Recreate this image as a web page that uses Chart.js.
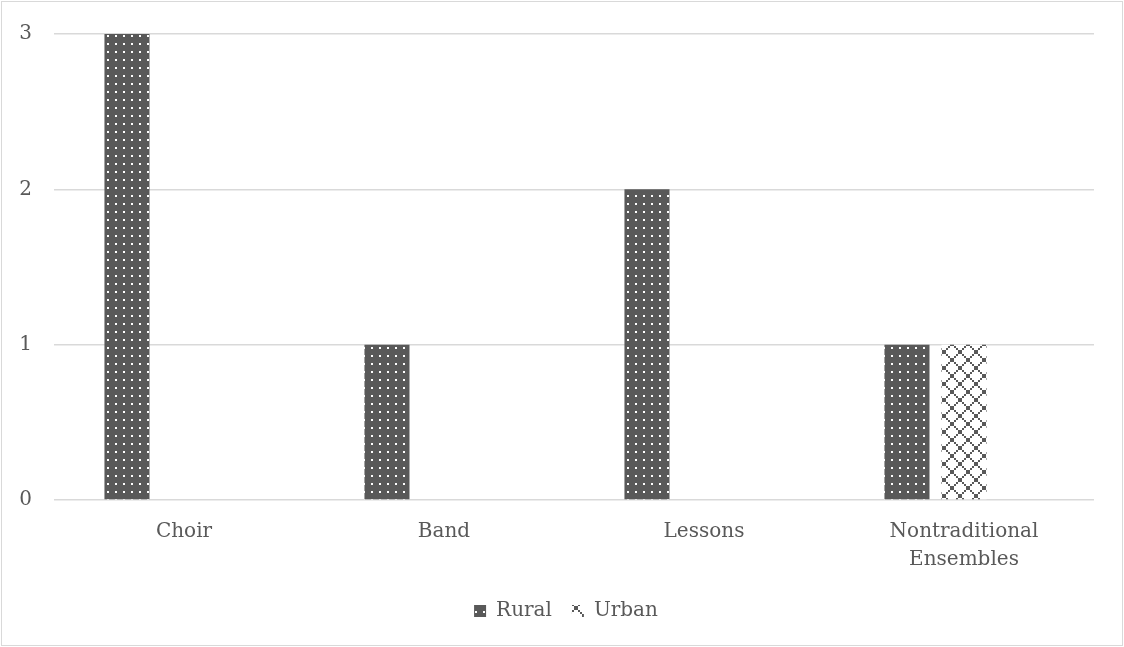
<!DOCTYPE html>
<html><head><meta charset="utf-8">
<script src="https://cdn.jsdelivr.net/npm/chart.js@4"></script>
<style>
html,body{margin:0;padding:0;background:#fff;}
#wrap{position:absolute;left:0;top:0;width:1124px;height:647px;}
#frame{position:absolute;left:1px;top:1px;width:1120px;height:643px;border:1px solid #d9d9d9;pointer-events:none;}
</style></head>
<body>
<div id="wrap"><canvas id="c" width="1124" height="647"></canvas></div>
<div id="frame"></div>
<script>
const categories = ["Choir", "Band", "Lessons", ["Nontraditional", "Ensembles"]];
const seriesNames = ["Rural", "Urban"];
const ruralValues = [3, 1, 2, 1];
const urbanValues = [null, null, null, 1];
const yTicks = [0, 1, 2, 3];

function dotPattern() {
  const c = document.createElement('canvas'); c.width = 8; c.height = 8;
  const g = c.getContext('2d');
  g.fillStyle = '#595959'; g.fillRect(0, 0, 8, 8);
  g.fillStyle = '#ffffff'; g.fillRect(3, 3, 2, 2);
  return g.createPattern(c, 'repeat');
}
function latticePattern() {
  const n = 16;
  const c = document.createElement('canvas'); c.width = n; c.height = n;
  const g = c.getContext('2d');
  g.fillStyle = '#ffffff'; g.fillRect(0, 0, n, n);
  g.fillStyle = '#595959';
  for (let i = 0; i < n; i += 2) {
    g.fillRect(i, i, 2, 2);
    g.fillRect(n - 2 - i, i, 2, 2);
  }
  return g.createPattern(c, 'repeat');
}

const txt = '#595959';
const font = {family: '"DejaVu Serif", serif', size: 20};

const legendShift = {
  id: 'legendShift',
  afterLayout(chart) {
    const l = chart.legend;
    if (l) { l.left += 19; l.right += 19; }
  }
};

new Chart(document.getElementById('c'), {
  type: 'bar',
  data: {
    labels: categories,
    datasets: [
      {label: seriesNames[0], data: ruralValues, backgroundColor: dotPattern(), borderWidth: 0},
      {label: seriesNames[1], data: urbanValues, backgroundColor: latticePattern(), borderWidth: 0},
      {label: '', data: [null, null, null, null], backgroundColor: '#fff', borderWidth: 0}
    ]
  },
  plugins: [legendShift],
  options: {
    responsive: false,
    animation: false,
    devicePixelRatio: 1,
    datasets: {bar: {categoryPercentage: 0.658, barPercentage: 0.79}},
    layout: {padding: {left: 0, right: 30, top: 26, bottom: 16}},
    plugins: {
      tooltip: {enabled: false},
      legend: {
        position: 'bottom',
        labels: {
          color: txt, font: font, boxWidth: 12, boxHeight: 12, padding: 20,
          filter: (item) => item.text !== ''
        }
      }
    },
    scales: {
      x: {
        grid: {display: false},
        border: {display: false},
        ticks: {color: txt, font: Object.assign({}, font, {lineHeight: 1.4}), padding: 10, maxRotation: 0, autoSkip: false},
        afterFit: (s) => { s.height = 81; }
      },
      y: {
        min: 0, max: 3,
        afterBuildTicks: (s) => { s.ticks = yTicks.map(v => ({value: v})); },
        grid: {color: '#d9d9d9', lineWidth: 1.5, drawTicks: false},
        border: {display: false},
        ticks: {color: txt, font: font, padding: 22},
        afterFit: (s) => { s.width = 54; }
      }
    }
  }
});
</script>
</body></html>
